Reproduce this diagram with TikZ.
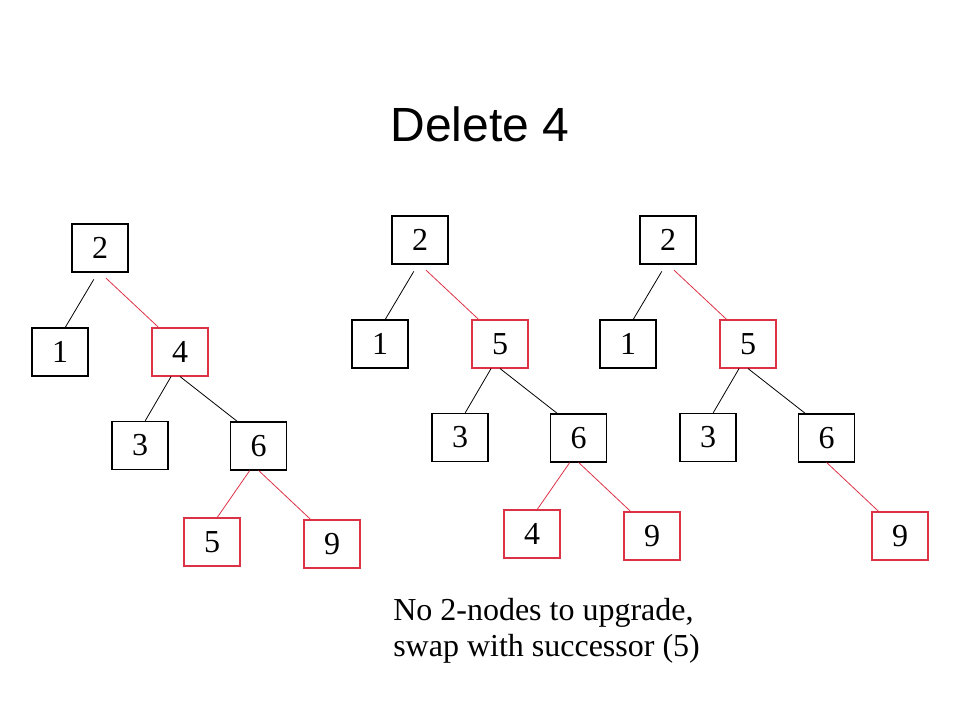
\documentclass[tikz,border=0pt]{standalone}
\usepackage{fontspec}
\setmainfont{Liberation Serif}
\newfontfamily\titlefont{Liberation Sans}
\usepackage{tikz}
\definecolor{boxred}{RGB}{220,50,70}

\begin{document}
\begin{tikzpicture}[node distance=72pt]
		\tikzstyle{key} = [draw, rectangle, line width=0.8pt, minimum width=42pt, minimum height=36pt, inner sep=0pt, font=\fontsize{24}{28}\selectfont]
		\tikzstyle{redkey} = [key, draw=boxred]

		\useasboundingbox (0,0) rectangle (720pt,-540pt);

		\node[font=\titlefont\fontsize{36}{43}\selectfont, anchor=base] (title) at (360pt,-106pt) {Delete 4};

		% before
		\begin{scope}
		\path[line width=0.6pt]
		node[key] (a2) at (75pt,-186pt) {2}
		node[key, below of=a2, xshift=-30pt, yshift=-6pt] (a1) {1}
		node[redkey, below of=a2, xshift=60pt, yshift=-6pt] (a4) {4}
		node[key, below of=a4, xshift=-30pt, yshift=2pt] (a3) {3}
		node[key, below of=a4, xshift=59pt, yshift=1.5pt] (a6) {6}
		node[redkey, below of=a6, xshift=-35pt] (a5) {5}
		node[redkey, below of=a6, xshift=55pt, yshift=-1.5pt] (a9) {9}

		(a2.265) edge[-, black, shorten <=6pt] (a1.78)
		(a2.south) edge[-, boxred, shorten <=6pt] (a4.131)
		(a4.250) edge[-, black] (a3.78)
		(a4.south) edge[-, black] (a6.131)
		(a6.250) edge[-, boxred] (a5.78)
		(a6.south) edge[-, boxred] (a9.131)
		;
		\end{scope}

		% swapped
		\begin{scope}
		\path[line width=0.6pt]
		node[key] (b2) at (315pt,-180pt) {2}
		node[key, below of=b2, xshift=-30pt, yshift=-6pt] (b1) {1}
		node[redkey, below of=b2, xshift=60pt, yshift=-6pt] (b5) {5}
		node[key, below of=b5, xshift=-30pt, yshift=2pt] (b3) {3}
		node[key, below of=b5, xshift=59pt, yshift=1.5pt] (b6) {6}
		node[redkey, below of=b6, xshift=-35pt] (b4) {4}
		node[redkey, below of=b6, xshift=55pt, yshift=-1.5pt] (b9) {9}

		(b2.265) edge[-, black, shorten <=6pt] (b1.78)
		(b2.south) edge[-, boxred, shorten <=6pt] (b5.131)
		(b5.250) edge[-, black] (b3.78)
		(b5.south) edge[-, black] (b6.131)
		(b6.250) edge[-, boxred] (b4.78)
		(b6.south) edge[-, boxred] (b9.131)
		;
		\end{scope}

		% after
		\begin{scope}
		\path[line width=0.6pt]
		node[key] (c2) at (501pt,-180pt) {2}
		node[key, below of=c2, xshift=-30pt, yshift=-6pt] (c1) {1}
		node[redkey, below of=c2, xshift=60pt, yshift=-6pt] (c5) {5}
		node[key, below of=c5, xshift=-30pt, yshift=2pt] (c3) {3}
		node[key, below of=c5, xshift=59pt, yshift=1.5pt] (c6) {6}
		node[redkey, below of=c6, xshift=55pt, yshift=-1.5pt] (c9) {9}

		(c2.265) edge[-, black, shorten <=6pt] (c1.78)
		(c2.south) edge[-, boxred, shorten <=6pt] (c5.131)
		(c5.250) edge[-, black] (c3.78)
		(c5.south) edge[-, black] (c6.131)
		(c6.south) edge[-, boxred] (c9.131)
		;
		\end{scope}

		\node[anchor=base west, align=left, inner sep=0pt, font=\fontsize{24}{26.8}\selectfont] (note) at (294.75pt,-492.5pt) {No 2-nodes to upgrade,\\swap with successor (5)};
\end{tikzpicture}
\end{document}
